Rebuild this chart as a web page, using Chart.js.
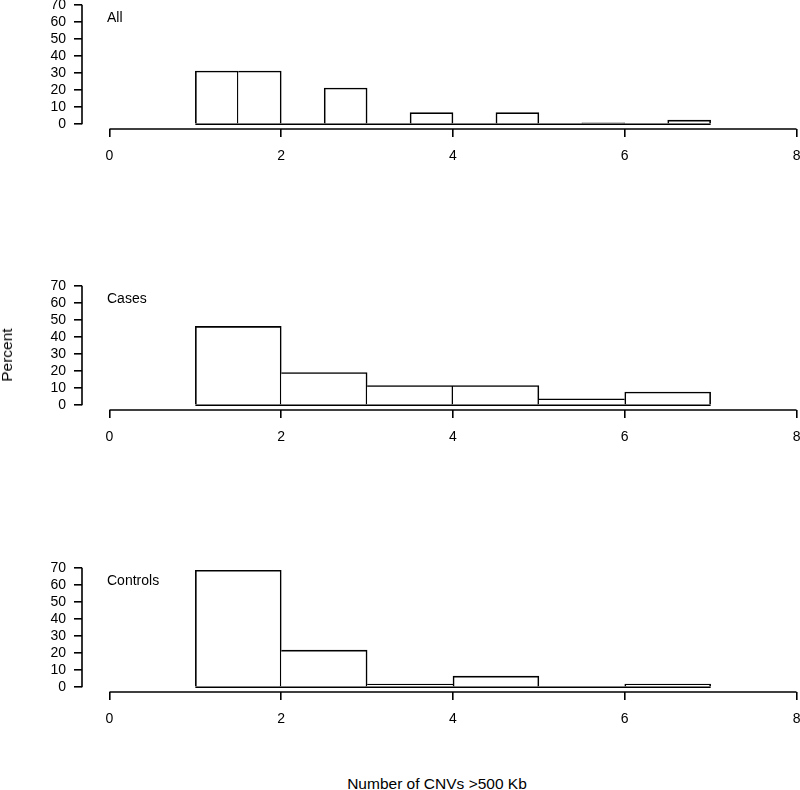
<!DOCTYPE html>
<html lang="en">
  <head>
    <meta charset="UTF-8" />
    <title>Number of CNVs &gt;500 Kb</title>
    <script src="https://cdn.jsdelivr.net/npm/chart.js"></script>
    <style>
      html, body { margin: 0; padding: 0; background: #fff; }
      body {
        width: 800px; height: 790px; overflow: hidden; position: relative;
        font-family: "Liberation Sans", Arial, sans-serif; color: #000;
      }
      canvas.panel { position: absolute; left: 0; }
      #ylab {
        position: absolute; left: 7px; top: 355px; font-size: 15.5px; white-space: nowrap;
        transform: translate(-50%, -50%) rotate(-90deg);
      }
      #xlab {
        position: absolute; left: 437px; top: 784px; font-size: 15.5px; white-space: nowrap;
        transform: translate(-50%, -50%);
      }
    </style>
  </head>
  <body>
    <canvas class="panel" id="p0" width="830" height="189"></canvas>
    <canvas class="panel" id="p1" width="830" height="189"></canvas>
    <canvas class="panel" id="p2" width="830" height="189"></canvas>
    <div id="ylab">Percent</div>
    <div id="xlab">Number of CNVs &gt;500 Kb</div>

    <script>
      // data (percent of samples per bin)
      const panelNames = ["All", "Cases", "Controls"];
      const allBinStarts = [1, 1.5, 2, 2.5, 3, 3.5, 4, 4.5, 5, 5.5, 6, 6.5];
      const allPercent = [31.2, 31.2, 0, 21.2, 0, 6.8, 0, 6.8, 0, 0.8, 0, 2.4];
      const binStarts = [1, 2, 3, 4, 5, 6];
      const casesPercent = [46.2, 19.2, 11.5, 11.5, 3.8, 7.7];
      const controlsPercent = [68.5, 21.7, 1.8, 6.5, 0, 1.8];
      const xTicks = [0, 2, 4, 6, 8];
      const yTicks = [0, 10, 20, 30, 40, 50, 60, 70];

      const panels = [
        { starts: allBinStarts, width: 0.5, values: allPercent },
        { starts: binStarts, width: 1, values: casesPercent },
        { starts: binStarts, width: 1, values: controlsPercent },
      ];

      // layout
      const panelTops = [0, 281, 563]; // top of each plot area on the page
      const padTop = 20;
      const lw = 1.6;
      const fontFamily = '"Liberation Sans", Arial, sans-serif';
      Chart.defaults.font.family = fontFamily;
      Chart.defaults.color = "#000";

      // R style axes: lines only from first to last tick, plus the panel label
      const axisLines = {
        id: "axisLines",
        afterDraw(chart, args, opts) {
          const { ctx, chartArea, scales } = chart;
          const x = scales.x, y = scales.y;
          ctx.save();
          ctx.strokeStyle = "#000";
          ctx.lineWidth = lw;
          ctx.beginPath();
          ctx.moveTo(x.getPixelForValue(xTicks[0]), chartArea.bottom);
          ctx.lineTo(x.getPixelForValue(xTicks[xTicks.length - 1]), chartArea.bottom);
          ctx.moveTo(chartArea.left, y.getPixelForValue(yTicks[0]));
          ctx.lineTo(chartArea.left, y.getPixelForValue(yTicks[yTicks.length - 1]));
          ctx.stroke();
          ctx.fillStyle = "#000";
          ctx.font = "14px " + fontFamily;
          ctx.textBaseline = "middle";
          ctx.fillText(opts.label, chartArea.left + 25, chartArea.top + 18);
          ctx.restore();
        },
      };

      function makePanel(i) {
        const p = panels[i];
        const n = p.values.length;
        const canvas = document.getElementById("p" + i);
        canvas.style.top = panelTops[i] - padTop + "px";

        // shared edges are drawn once, by the taller bar
        const sideWidths = (c) => {
          const k = c.dataIndex, v = p.values;
          return {
            top: lw,
            bottom: 0,
            left: k === 0 || v[k - 1] < v[k] ? lw : 0,
            right: k === n - 1 || v[k + 1] <= v[k] ? lw : 0,
          };
        };

        new Chart(canvas, {
          type: "bar",
          data: {
            datasets: [
              {
                type: "line",
                data: [
                  { x: p.starts[0], y: 0 },
                  { x: p.starts[n - 1] + p.width, y: 0 },
                ],
                borderColor: "#000",
                borderWidth: lw,
                pointRadius: 0,
              },
              {
                data: p.starts.map((s, k) => ({ x: s + p.width / 2, y: p.values[k] })),
                backgroundColor: "#fff",
                borderColor: "#000",
                borderWidth: sideWidths,
                borderSkipped: false,
                barPercentage: 1,
                categoryPercentage: 1,
              },
            ],
          },
          options: {
            responsive: false,
            animation: false,
            layout: { padding: { top: padTop, right: 6, left: 0, bottom: 0 } },
            plugins: {
              legend: { display: false },
              tooltip: { enabled: false },
              axisLines: { label: panelNames[i] },
            },
            scales: {
              x: {
                type: "linear",
                min: -0.32,
                max: 8.32,
                offset: false,
                afterBuildTicks: (s) => { s.ticks = xTicks.map((v) => ({ value: v })); },
                afterFit: (s) => { s.height = 40; },
                border: { display: false },
                grid: { drawOnChartArea: false, drawTicks: true, tickLength: 8, color: "#000", lineWidth: lw, offset: false },
                ticks: { autoSkip: false, maxRotation: 0, padding: 11, font: { size: 14 } },
              },
              y: {
                type: "linear",
                min: -2.8,
                max: 72.8,
                afterBuildTicks: (s) => { s.ticks = yTicks.map((v) => ({ value: v })); },
                afterFit: (s) => { s.width = 82; },
                border: { display: false },
                grid: { drawOnChartArea: false, drawTicks: true, tickLength: 8, color: "#000", lineWidth: lw },
                ticks: { autoSkip: false, padding: 8, font: { size: 14 } },
              },
            },
          },
          plugins: [axisLines],
        });
      }

      panels.forEach((p, i) => makePanel(i));
    </script>
  </body>
</html>
